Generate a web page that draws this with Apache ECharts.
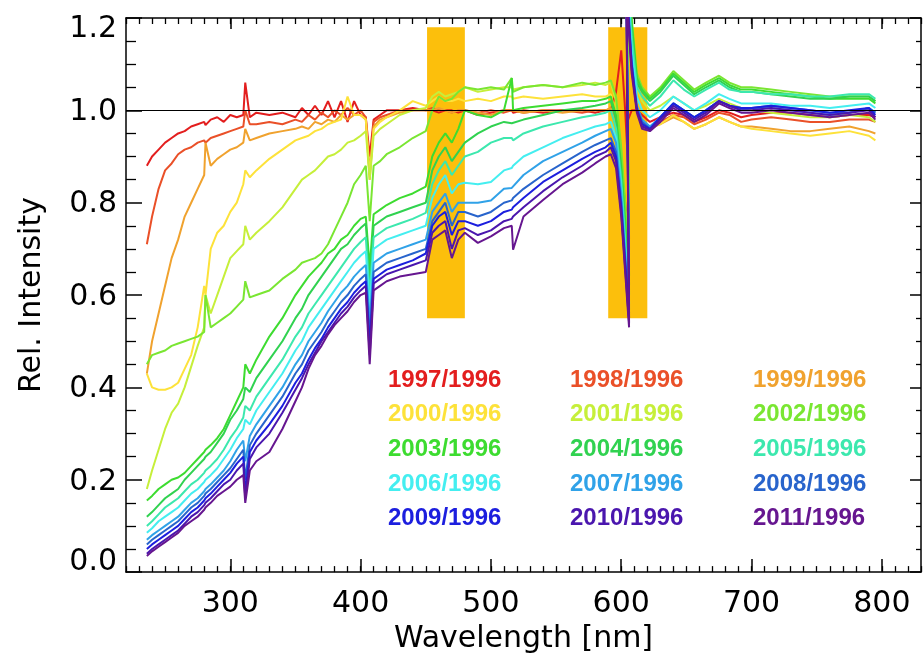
<!DOCTYPE html>
<html>
<head>
<meta charset="utf-8">
<script src="https://cdn.jsdelivr.net/npm/echarts@6/dist/echarts.min.js"></script>
<style>
  html, body { margin: 0; padding: 0; background: #ffffff; }
  #chart { width: 923px; height: 659px; }
</style>
</head>
<body>
<div id="chart"></div>
<script>
// Wavelength samples (nm); the 606 -> 604 step is the overlap between the two detector channels.
const wavelengths = [236,240,245,250,255,260,265,270,275,280,
  281,285,290,295,300,305,310,311.5,315,320,
  330,340,350,355,360,365,370,375,380,385,
  390,395,400,404,407,410,415,420,430,440,
  450,455,460,465,470,475,480,490,500,510,
  516,517,525,540,555,570,580,588,592,596,
  600,603,606,604,608,612,616,622,630,640,
  648,656,665,675,683,692,700,715,730,745,
  760,775,790,795];

// Relative intensity of each year's spectrum against 1996
const r1997 = [0.88,0.9,0.915,0.93,0.94,0.95,0.955,0.965,0.97,0.975,
  0.968,0.98,0.985,0.975,0.99,0.985,0.99,1.06,0.985,0.995,
  0.99,0.995,0.985,1.005,0.99,1.01,0.99,1.02,0.985,1.02,
  0.975,1.02,0.99,0.985,0.9,0.98,0.99,1.0,1.0,1.005,
  1.0,1.0,0.995,1.0,1.0,0.995,1.0,0.99,0.995,1.0,
  1.0,0.995,1.0,0.995,1.0,1.0,0.995,1.0,1.0,1.04,
  1.13,1.0,0.84,0.97,1.0,1.0,0.99,0.975,0.985,0.995,
  0.99,0.975,0.985,1.0,0.995,0.985,0.99,0.995,0.995,0.99,
  0.985,0.99,0.99,0.985];
const r1998 = [0.71,0.77,0.83,0.87,0.885,0.905,0.915,0.92,0.93,0.935,
  0.93,0.94,0.945,0.95,0.955,0.96,0.965,1.0,0.97,0.97,
  0.975,0.97,0.98,0.975,0.99,0.98,0.995,0.985,1.0,0.99,
  1.005,0.99,1.0,0.985,0.86,0.975,0.985,0.99,1.0,1.0,
  1.0,1.005,1.0,1.0,0.995,1.0,1.0,0.995,1.0,0.995,
  1.0,1.0,0.995,1.0,1.0,0.995,1.0,1.0,1.005,0.97,
  0.88,0.8,0.72,1.28,1.1,1.0,0.975,0.965,0.975,0.99,
  0.985,0.97,0.98,0.995,0.99,0.975,0.98,0.985,0.98,0.975,
  0.975,0.98,0.98,0.975];
const r1999 = [0.43,0.5,0.56,0.62,0.68,0.72,0.77,0.8,0.83,0.86,
  0.93,0.88,0.895,0.905,0.915,0.92,0.93,0.96,0.935,0.94,
  0.95,0.955,0.96,0.965,0.96,0.975,0.97,0.98,0.975,0.99,
  0.98,0.99,0.99,0.98,0.85,0.965,0.98,0.985,0.995,1.0,
  1.0,1.0,1.005,1.0,0.995,1.0,1.0,0.995,0.99,1.0,
  1.0,1.0,0.995,1.0,0.995,1.0,1.0,1.0,1.005,0.97,
  0.87,0.78,0.7,1.28,1.1,0.99,0.97,0.965,0.97,0.985,
  0.975,0.96,0.97,0.985,0.975,0.965,0.965,0.96,0.955,0.955,
  0.96,0.965,0.955,0.95];
const r2000 = [0.43,0.4,0.395,0.395,0.4,0.41,0.44,0.47,0.53,0.62,
  0.6,0.7,0.735,0.75,0.78,0.8,0.84,0.87,0.855,0.87,
  0.895,0.915,0.935,0.94,0.945,0.955,0.96,0.97,0.975,0.98,
  1.03,0.99,0.99,0.98,0.86,0.96,0.975,0.985,1.0,1.02,
  1.01,1.02,1.03,1.02,1.02,1.025,1.02,1.025,1.02,1.03,
  1.03,1.025,1.03,1.025,1.03,1.035,1.03,1.03,1.035,0.99,
  0.88,0.78,0.69,1.3,1.12,1.0,0.97,0.96,0.97,0.99,
  0.975,0.96,0.97,0.985,0.975,0.965,0.96,0.955,0.95,0.945,
  0.95,0.955,0.945,0.935];
const r2001 = [0.18,0.22,0.265,0.31,0.345,0.365,0.4,0.445,0.49,0.53,
  0.6,0.56,0.6,0.64,0.68,0.695,0.71,0.75,0.72,0.735,
  0.76,0.79,0.83,0.85,0.86,0.87,0.885,0.9,0.905,0.915,
  0.93,0.935,0.945,0.955,0.85,0.945,0.96,0.97,0.99,1.0,
  1.005,1.03,1.04,1.03,1.035,1.04,1.05,1.04,1.045,1.05,
  1.05,1.045,1.05,1.055,1.05,1.055,1.06,1.055,1.06,1.02,
  0.9,0.78,0.68,1.33,1.18,1.05,1.02,1.0,1.01,1.03,
  1.015,1.0,1.01,1.025,1.015,1.005,1.0,0.995,0.99,0.985,
  0.985,0.99,0.985,0.975];
const r2002 = [0.45,0.47,0.475,0.48,0.49,0.495,0.5,0.505,0.51,0.52,
  0.6,0.53,0.54,0.55,0.56,0.575,0.59,0.63,0.595,0.6,
  0.61,0.635,0.655,0.67,0.675,0.68,0.69,0.71,0.74,0.77,
  0.8,0.84,0.86,0.88,0.76,0.88,0.89,0.905,0.92,0.94,
  0.955,1.0,1.03,1.02,1.025,1.04,1.05,1.045,1.05,1.045,
  1.07,1.04,1.05,1.055,1.05,1.06,1.055,1.06,1.065,1.03,
  0.92,0.8,0.66,1.35,1.2,1.08,1.05,1.03,1.05,1.085,
  1.065,1.045,1.06,1.075,1.06,1.05,1.05,1.045,1.04,1.035,
  1.03,1.03,1.03,1.02];
const r2003 = [0.155,0.165,0.18,0.19,0.2,0.205,0.215,0.23,0.245,0.26,
  0.265,0.275,0.29,0.31,0.34,0.37,0.4,0.45,0.43,0.46,
  0.51,0.55,0.6,0.62,0.64,0.655,0.67,0.69,0.7,0.72,
  0.73,0.75,0.765,0.77,0.66,0.775,0.785,0.795,0.81,0.82,
  0.835,0.9,0.93,0.95,0.93,0.96,1.0,0.99,0.985,1.0,
  1.07,1.0,1.005,1.01,1.015,1.02,1.02,1.025,1.03,0.99,
  0.88,0.76,0.64,1.34,1.19,1.07,1.045,1.025,1.045,1.08,
  1.06,1.04,1.055,1.07,1.055,1.045,1.045,1.04,1.035,1.03,
  1.025,1.025,1.025,1.015];
const r2004 = [0.12,0.13,0.145,0.16,0.17,0.18,0.2,0.215,0.23,0.245,
  0.25,0.26,0.28,0.3,0.33,0.35,0.375,0.4,0.39,0.42,
  0.46,0.5,0.55,0.57,0.6,0.62,0.64,0.66,0.68,0.7,
  0.71,0.73,0.745,0.755,0.63,0.75,0.76,0.77,0.78,0.79,
  0.8,0.87,0.9,0.92,0.89,0.91,0.93,0.95,0.965,0.975,
  0.972,0.97,0.98,0.99,1.0,1.005,1.01,1.015,1.02,0.98,
  0.87,0.74,0.62,1.33,1.18,1.06,1.04,1.02,1.04,1.075,
  1.055,1.035,1.05,1.065,1.05,1.04,1.04,1.035,1.03,1.025,
  1.025,1.03,1.03,1.02];
const r2005 = [0.1,0.11,0.125,0.14,0.15,0.16,0.175,0.19,0.2,0.215,
  0.22,0.23,0.245,0.265,0.29,0.31,0.335,0.36,0.35,0.38,
  0.42,0.46,0.51,0.53,0.56,0.58,0.6,0.62,0.64,0.66,
  0.68,0.7,0.715,0.725,0.6,0.725,0.735,0.745,0.755,0.765,
  0.778,0.84,0.87,0.89,0.86,0.88,0.9,0.91,0.93,0.94,
  0.94,0.935,0.95,0.965,0.975,0.985,0.99,0.995,1.0,0.96,
  0.85,0.72,0.6,1.32,1.16,1.05,1.03,1.01,1.03,1.065,
  1.045,1.03,1.045,1.06,1.045,1.04,1.04,1.035,1.035,1.03,
  1.03,1.035,1.035,1.025];
const r2006 = [0.085,0.095,0.11,0.12,0.13,0.14,0.155,0.17,0.18,0.195,
  0.2,0.21,0.225,0.245,0.265,0.29,0.31,0.33,0.32,0.35,
  0.39,0.43,0.48,0.5,0.53,0.55,0.57,0.59,0.61,0.63,
  0.65,0.67,0.685,0.695,0.57,0.7,0.71,0.72,0.73,0.74,
  0.75,0.81,0.84,0.86,0.82,0.84,0.843,0.84,0.845,0.87,
  0.875,0.88,0.9,0.92,0.94,0.955,0.965,0.97,0.975,0.94,
  0.83,0.7,0.58,1.3,1.13,1.03,1.0,0.985,1.0,1.03,
  1.015,1.0,1.015,1.035,1.025,1.015,1.015,1.015,1.01,1.01,
  1.005,1.01,1.015,1.005];
const r2007 = [0.07,0.08,0.09,0.1,0.11,0.12,0.135,0.15,0.16,0.175,
  0.18,0.19,0.205,0.22,0.24,0.265,0.285,0.24,0.295,0.32,
  0.36,0.4,0.45,0.47,0.5,0.52,0.54,0.565,0.585,0.605,
  0.62,0.64,0.655,0.665,0.54,0.67,0.68,0.69,0.7,0.71,
  0.72,0.78,0.8,0.82,0.78,0.8,0.8,0.8,0.805,0.83,
  0.832,0.835,0.86,0.89,0.91,0.93,0.945,0.955,0.96,0.93,
  0.82,0.69,0.57,1.29,1.11,1.01,0.98,0.965,0.985,1.015,
  1.0,0.985,1.0,1.02,1.01,1.0,1.005,1.005,1.0,0.995,
  0.99,0.995,1.005,0.995];
const r2008 = [0.06,0.07,0.08,0.09,0.1,0.11,0.125,0.14,0.15,0.165,
  0.17,0.18,0.195,0.21,0.225,0.245,0.265,0.2,0.275,0.3,
  0.34,0.38,0.43,0.45,0.48,0.5,0.52,0.545,0.565,0.585,
  0.6,0.62,0.635,0.645,0.51,0.65,0.66,0.67,0.68,0.69,
  0.7,0.76,0.78,0.8,0.75,0.78,0.78,0.77,0.78,0.8,
  0.805,0.81,0.83,0.86,0.885,0.91,0.925,0.935,0.94,0.91,
  0.8,0.68,0.56,1.28,1.1,1.005,0.975,0.96,0.985,1.015,
  1.0,0.985,1.0,1.02,1.01,1.005,1.005,1.01,1.005,1.0,
  0.995,0.995,1.005,0.995];
const r2009 = [0.05,0.06,0.07,0.08,0.09,0.1,0.115,0.13,0.14,0.155,
  0.16,0.17,0.185,0.2,0.215,0.235,0.25,0.17,0.26,0.285,
  0.32,0.36,0.41,0.43,0.46,0.485,0.505,0.53,0.55,0.57,
  0.585,0.605,0.62,0.63,0.49,0.635,0.645,0.655,0.665,0.675,
  0.69,0.75,0.77,0.78,0.73,0.76,0.76,0.75,0.76,0.78,
  0.785,0.79,0.81,0.845,0.87,0.895,0.91,0.92,0.93,0.9,
  0.79,0.67,0.55,1.27,1.1,1.0,0.97,0.96,0.985,1.015,
  1.0,0.985,1.0,1.02,1.01,1.005,1.005,1.01,1.005,1.0,
  0.995,1.0,1.005,0.99];
const r2010 = [0.04,0.05,0.06,0.07,0.08,0.09,0.105,0.12,0.13,0.145,
  0.15,0.16,0.175,0.19,0.2,0.22,0.235,0.16,0.245,0.27,
  0.3,0.345,0.395,0.42,0.45,0.475,0.5,0.52,0.54,0.56,
  0.575,0.595,0.61,0.62,0.47,0.625,0.635,0.645,0.655,0.665,
  0.675,0.735,0.75,0.76,0.7,0.74,0.745,0.73,0.74,0.76,
  0.765,0.77,0.79,0.825,0.855,0.88,0.9,0.91,0.92,0.89,
  0.78,0.66,0.54,1.26,1.09,1.0,0.965,0.958,0.98,1.01,
  0.995,0.98,0.995,1.02,1.01,1.0,1.0,1.005,1.0,0.995,
  0.99,0.995,1.0,0.985];
const r2011 = [0.035,0.045,0.055,0.065,0.075,0.085,0.1,0.11,0.12,0.135,
  0.14,0.15,0.165,0.175,0.185,0.2,0.21,0.15,0.22,0.24,
  0.26,0.31,0.37,0.4,0.44,0.47,0.49,0.515,0.535,0.55,
  0.565,0.585,0.6,0.605,0.45,0.61,0.62,0.63,0.64,0.645,
  0.65,0.72,0.73,0.74,0.68,0.72,0.735,0.713,0.727,0.745,
  0.75,0.698,0.77,0.806,0.84,0.865,0.885,0.9,0.905,0.875,
  0.77,0.65,0.53,1.25,1.08,0.995,0.96,0.955,0.975,1.005,
  0.99,0.975,0.99,1.015,1.005,0.995,0.995,1.0,0.995,0.99,
  0.985,0.99,0.995,0.98];

const yearLabels = ['1997/1996','1998/1996','1999/1996','2000/1996','2001/1996',
  '2002/1996','2003/1996','2004/1996','2005/1996','2006/1996',
  '2007/1996','2008/1996','2009/1996','2010/1996','2011/1996'];
const ratioSets = [r1997,r1998,r1999,r2000,r2001,r2002,r2003,r2004,
  r2005,r2006,r2007,r2008,r2009,r2010,r2011];

// Axis ticks
const majorWavelengths = [300,400,500,600,700,800];
const intensityTicks = [0,0.2,0.4,0.6,0.8,1.0,1.2];

// Masked wavelength windows (nm) and the intensity span they cover
const maskedWindows = [[451,480],[590,620]];
const maskedSpan = [0.55,1.18];
const unityLevel = 1.0;

// Rainbow palette, one colour per year
const yearColors = ['#e31e1e','#ea5028','#f0a22e','#fde23a','#c6ef3a',
  '#7ae632','#3ddc30','#30d250','#3ce8ae','#44eef0',
  '#30a2e8','#2864cc','#1c1ede','#4a16ae','#661690'];

const axisFont = 'DejaVu Sans';
const ink = '#000000';

const chart = echarts.init(document.getElementById('chart'), null, { renderer: 'canvas' });

const lineSeries = yearLabels.map((name, k) => ({
  name: name,
  type: 'line',
  xAxisIndex: 0,
  yAxisIndex: 0,
  showSymbol: false,
  symbol: 'none',
  clip: true,
  z: 3,
  lineStyle: { color: yearColors[k], width: 2 },
  itemStyle: { color: yearColors[k] },
  data: wavelengths.map((w, i) => [w, ratioSets[k][i]])
}));

const bandSeries = {
  name: 'masked',
  type: 'line',
  xAxisIndex: 0,
  yAxisIndex: 0,
  data: [],
  z: 1,
  silent: true,
  markArea: {
    silent: true,
    itemStyle: { color: '#fcbf0c', opacity: 1 },
    data: maskedWindows.map(r => [
      { xAxis: r[0], yAxis: maskedSpan[0] },
      { xAxis: r[1], yAxis: maskedSpan[1] }
    ])
  }
};

const unitySeries = {
  name: 'unity',
  type: 'line',
  xAxisIndex: 0,
  yAxisIndex: 0,
  data: [],
  z: 5,
  silent: true,
  markLine: {
    silent: true,
    symbol: 'none',
    label: { show: false },
    lineStyle: { color: ink, width: 1.2, type: 'solid' },
    data: [{ yAxis: unityLevel }]
  }
};

function near(a, b) { return Math.abs(a - b) < 1e-6; }

const legendColumns = [
  { left: 383, items: [0, 3, 6, 9, 12] },
  { left: 565, items: [1, 4, 7, 10, 13] },
  { left: 748, items: [2, 5, 8, 11, 14] }
];

const labelRich = {
  n: { fontFamily: axisFont, fontSize: 30, color: ink, padding: [4, 0, 0, 0] },
  hi: { fontFamily: axisFont, fontSize: 30, color: ink, padding: [22, 0, 0, 0] },
  lo: { fontFamily: axisFont, fontSize: 30, color: ink, padding: [0, 0, 20, 0] }
};

const option = {
  animation: false,
  backgroundColor: '#ffffff',
  grid: { left: 126, top: 18, right: 2, bottom: 86, containLabel: false },
  legend: legendColumns.map(col => ({
    left: col.left,
    top: 368,
    orient: 'vertical',
    icon: 'none',
    itemWidth: 0,
    itemHeight: 10,
    itemGap: 10.7,
    selectedMode: false,
    padding: 0,
    textStyle: { fontFamily: 'Liberation Sans', fontWeight: 'bold', fontSize: 24, lineHeight: 24 },
    data: col.items.map(k => ({ name: yearLabels[k], textStyle: { color: yearColors[k] } }))
  })),
  xAxis: [
    {
      type: 'value', position: 'bottom', min: 220, max: 830, interval: 10,
      axisLine: { show: true, lineStyle: { color: ink, width: 1.5 } },
      axisTick: { show: true, inside: true, length: 6, lineStyle: { color: ink, width: 1.3 } },
      axisLabel: { show: false },
      splitLine: { show: false }
    },
    {
      type: 'value', position: 'bottom', min: 220, max: 830,
      name: 'Wavelength [nm]', nameLocation: 'middle', nameGap: 51,
      nameTextStyle: { fontFamily: axisFont, fontSize: 30, color: ink },
      axisLine: { show: false },
      axisTick: { show: true, inside: true, length: 13, customValues: majorWavelengths,
        lineStyle: { color: ink, width: 1.5 } },
      axisLabel: { show: true, customValues: majorWavelengths, margin: 17,
        fontFamily: axisFont, fontSize: 30, color: ink },
      splitLine: { show: false }
    },
    {
      type: 'value', position: 'top', min: 220, max: 830, interval: 10,
      axisLine: { show: true, lineStyle: { color: ink, width: 1.5 } },
      axisTick: { show: true, inside: true, length: 6, lineStyle: { color: ink, width: 1.3 } },
      axisLabel: { show: false },
      splitLine: { show: false }
    },
    {
      type: 'value', position: 'top', min: 220, max: 830,
      axisLine: { show: false },
      axisTick: { show: true, inside: true, length: 11, customValues: majorWavelengths,
        lineStyle: { color: ink, width: 1.5 } },
      axisLabel: { show: false },
      splitLine: { show: false }
    }
  ],
  yAxis: [
    {
      type: 'value', position: 'left', min: intensityTicks[0],
      max: intensityTicks[intensityTicks.length - 1], interval: 0.2,
      name: 'Rel. Intensity', nameLocation: 'middle', nameGap: 79,
      nameTextStyle: { fontFamily: axisFont, fontSize: 30, color: ink },
      axisLine: { show: true, lineStyle: { color: ink, width: 1.5 } },
      axisTick: { show: true, inside: true, length: 16, lineStyle: { color: ink, width: 1.5 } },
      minorTick: { show: true, splitNumber: 4, length: 10, lineStyle: { color: ink, width: 1.3 } },
      axisLabel: {
        show: true, margin: 9, fontFamily: axisFont, fontSize: 30, color: ink,
        formatter: v => {
          if (near(v, 1.2)) return '{hi|' + v.toFixed(1) + '}';
          if (near(v, 0)) return '{lo|' + v.toFixed(1) + '}';
          return '{n|' + v.toFixed(1) + '}';
        },
        rich: labelRich
      },
      splitLine: { show: false }
    },
    {
      type: 'value', position: 'right', min: intensityTicks[0],
      max: intensityTicks[intensityTicks.length - 1], interval: 0.2,
      axisLine: { show: true, lineStyle: { color: ink, width: 1.5 } },
      axisTick: { show: true, inside: true, length: 11, lineStyle: { color: ink, width: 1.5 } },
      minorTick: { show: true, splitNumber: 4, length: 5, lineStyle: { color: ink, width: 1.3 } },
      axisLabel: { show: false },
      splitLine: { show: false }
    }
  ],
  series: [bandSeries].concat(lineSeries, [unitySeries])
};

chart.setOption(option);
</script>
</body>
</html>
